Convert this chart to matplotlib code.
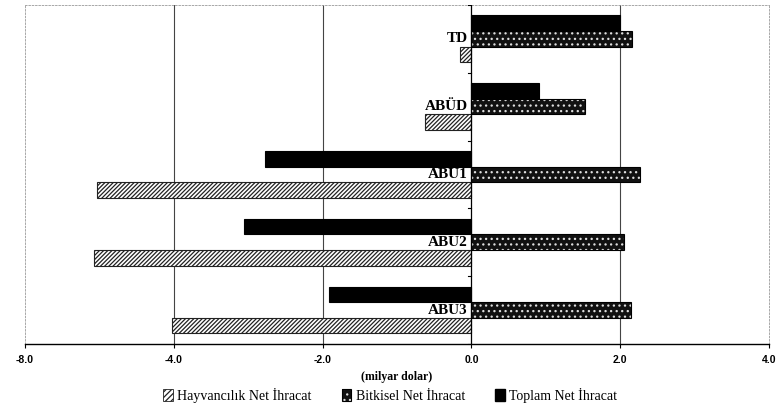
import numpy as np
import matplotlib.pyplot as plt
from matplotlib.patches import Patch

plt.rcParams['hatch.linewidth'] = 0.9

categories = ["TD", "ABÜD", "ABU1", "ABU2", "ABU3"]
hayvancilik = [-0.15, -0.63, -5.03, -5.07, -4.03]
bitkisel = [2.16, 1.53, 2.27, 2.05, 2.15]
toplam = [2.00, 0.91, -2.78, -3.05, -1.91]
xticks = [-6, -4, -2, 0, 2, 4]
xticklabels = ["-8.0", "-4.0", "-2.0", "0.0", "2.0", "4.0"]

serif = "Liberation Serif"
y = np.arange(len(categories))
h = 0.23

fig = plt.figure(figsize=(7.8, 4.11), dpi=100)
ax = fig.add_axes([0.032, 0.163, 0.954, 0.825])

ax.barh(y - h, toplam, height=h, color="black", edgecolor="black", linewidth=0.8)
ax.barh(y, bitkisel, height=h, facecolor="#111111", edgecolor="#dddddd", hatch="...", linewidth=0)
ax.barh(y, bitkisel, height=h, fill=False, edgecolor="black", linewidth=0.8)
ax.barh(y + h, hayvancilik, height=h, facecolor="white", edgecolor="#222222", hatch="////////", linewidth=0.8)

for yi, name in zip(y, categories):
    ax.text(-0.05, yi, name, ha="right", va="center", fontsize=11,
            fontweight="bold", family=serif)

ax.set_xlim(-6, 4)
ax.set_ylim(len(categories) - 0.5, -0.5)
ax.set_xticks(xticks)
ax.set_xticklabels(xticklabels, fontsize=7.5, fontweight="bold", family="Liberation Sans")
ax.set_yticks([])
for gx in [-4, -2, 2]:
    ax.axvline(gx, color="#444444", linewidth=0.8, zorder=0)
ax.axvline(0, color="black", linewidth=0.9, zorder=3)
for b in np.arange(len(categories) + 1) - 0.5:
    ax.plot([-0.04, 0], [b, b], color="black", linewidth=0.8, zorder=3)

for side in ["left", "right", "top"]:
    ax.spines[side].set_color("#999999")
    ax.spines[side].set_linestyle((0, (2, 2)))
    ax.spines[side].set_linewidth(0.6)
ax.spines["bottom"].set_linewidth(1.0)
ax.tick_params(axis="x", length=3, width=0.8, pad=5)
ax.set_xlabel("(milyar dolar)", fontsize=8.5, fontweight="bold", family=serif, labelpad=4)

handles = [
    Patch(facecolor="white", edgecolor="#222222", hatch="//////", linewidth=0.6),
    (Patch(facecolor="#111111", edgecolor="#dddddd", hatch="...", linewidth=0),
     Patch(fill=False, edgecolor="black", linewidth=0.8)),
    Patch(facecolor="black", edgecolor="black"),
]
labels = ["Hayvancılık Net İhracat", "Bitkisel Net İhracat", "Toplam Net İhracat"]
fig.legend(handles, labels, loc="lower center", bbox_to_anchor=(0.5, -0.01), ncol=3,
           frameon=False, prop={"family": serif, "size": 10},
           handlelength=0.7, handleheight=0.9, handletextpad=0.3, columnspacing=2.2)

fig.savefig("out.png", dpi=100)
